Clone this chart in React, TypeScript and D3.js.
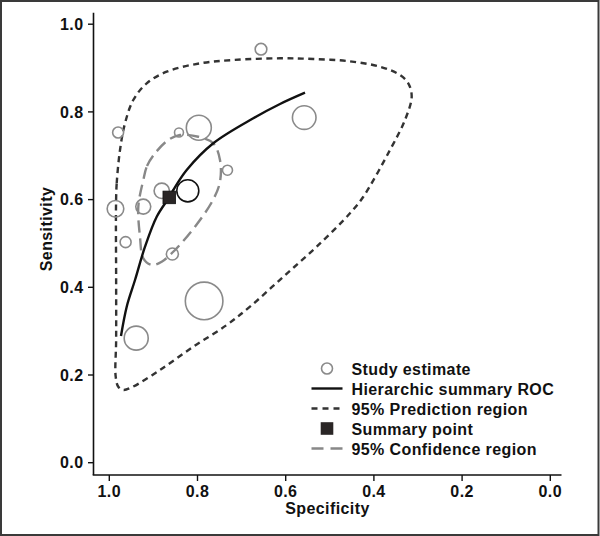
import React from "react";
import * as d3 from "d3";

// Study estimates: specificity, sensitivity, relative weight
const studySpec = [0.656, 0.98, 0.842, 0.797, 0.732, 0.881, 0.822, 0.923, 0.986, 0.963, 0.857, 0.785, 0.939, 0.558];
const studySens = [0.943, 0.753, 0.753, 0.764, 0.667, 0.62, 0.62, 0.584, 0.579, 0.503, 0.476, 0.369, 0.284, 0.787];
const studyWeight = [34, 30, 20, 156, 25, 59, 121, 56, 69, 30, 36, 353, 144, 139];
const highlighted = [false, false, false, false, false, false, true, false, false, false, false, false, false, false];

// Hierarchic summary ROC curve
const rocSpec = [0.9735, 0.9605, 0.9417, 0.919, 0.8925, 0.8639, 0.8549, 0.8245, 0.7642, 0.6735, 0.6129, 0.5562];
const rocSens = [0.2889, 0.3558, 0.4166, 0.4926, 0.561, 0.6059, 0.6219, 0.6675, 0.7284, 0.7854, 0.818, 0.8438];

// 95% prediction region
const predSpec = [0.9848, 0.9832, 0.9757, 0.9644, 0.9456, 0.9152, 0.8698, 0.7943, 0.7188, 0.6129, 0.5374, 0.4617, 0.3862, 0.3408, 0.322, 0.3143, 0.3295, 0.3635, 0.424, 0.4542, 0.5297, 0.6054, 0.681, 0.7338, 0.8095, 0.885, 0.9492, 0.9683, 0.9796, 0.9855, 0.9845, 0.9845];
const predSens = [0.5838, 0.6372, 0.7131, 0.774, 0.8271, 0.8652, 0.8917, 0.9108, 0.9184, 0.9222, 0.9206, 0.9161, 0.9031, 0.8842, 0.8652, 0.8347, 0.7816, 0.7132, 0.6066, 0.5688, 0.4926, 0.4242, 0.3558, 0.314, 0.2645, 0.2114, 0.1719, 0.1658, 0.1733, 0.1961, 0.2798, 0.4166];

// 95% confidence region
const confSpec = [0.9229, 0.9145, 0.8964, 0.8662, 0.8397, 0.7982, 0.7642, 0.749, 0.749, 0.7649, 0.8057, 0.851, 0.8812, 0.9039, 0.9229, 0.9304, 0.9342];
const confSens = [0.6447, 0.6766, 0.7056, 0.7359, 0.7473, 0.7434, 0.7284, 0.6903, 0.6408, 0.5991, 0.5382, 0.4851, 0.4584, 0.4509, 0.4661, 0.5154, 0.5838];

// Summary point
const summarySpec = 0.864;
const summarySens = 0.605;

const xTicks = [1.0, 0.8, 0.6, 0.4, 0.2, 0.0];
const yTicks = [0.0, 0.2, 0.4, 0.6, 0.8, 1.0];
const legendLabels = ["Study estimate", "Hierarchic summary ROC", "95% Prediction region", "Summary point", "95% Confidence region"];

const FONT = "'Liberation Sans', Arial, Helvetica, sans-serif";
const FS = 16;
const LS = 0.4;

export default function App() {
  const x = d3.scaleLinear().domain([1, 0]).range([109.3, 550.3]);
  const y = d3.scaleLinear().domain([0, 1]).range([462.7, 24.2]);
  const r = d3.scaleSqrt().domain([0, 353]).range([0, 18.8]);

  const rocLine = d3
    .line<number>()
    .x((_, i) => x(rocSpec[i]))
    .y((_, i) => y(rocSens[i]))
    .curve(d3.curveCatmullRom.alpha(0.5));
  const predLine = d3
    .line<number>()
    .x((_, i) => x(predSpec[i]))
    .y((_, i) => y(predSens[i]))
    .curve(d3.curveCatmullRomClosed.alpha(0.5));
  const confLine = d3
    .line<number>()
    .x((_, i) => x(confSpec[i]))
    .y((_, i) => y(confSens[i]))
    .curve(d3.curveCatmullRomClosed.alpha(0.5));

  const axisY = 475;
  const axisX = 93.5;
  const legendX = 327;
  const legendTextX = 351.5;
  const legendY0 = 368.5;
  const legendStep = 20;

  return (
    <svg
      width={600}
      height={536}
      style={{ position: "absolute", left: 0, top: 0, display: "block", background: "#fff" }}
      fontFamily={FONT}
    >
      <rect x={1} y={1} width={597.5} height={534} fill="#fff" stroke="#3a3a3a" strokeWidth={2} />

      {/* axes */}
      <line x1={axisX} y1={12.7} x2={axisX} y2={axisY} stroke="#111" strokeWidth={1.6} />
      <line x1={axisX - 0.8} y1={axisY} x2={561.5} y2={axisY} stroke="#111" strokeWidth={1.6} />
      {yTicks.map((t) => (
        <g key={"y" + t}>
          <line x1={88} x2={axisX} y1={y(t)} y2={y(t)} stroke="#111" strokeWidth={1.4} />
          <text x={83.5} y={y(t) + 5.6} textAnchor="end" fontSize={FS} fontWeight="bold" fill="#111" letterSpacing={LS}>
            {t.toFixed(1)}
          </text>
        </g>
      ))}
      {xTicks.map((t) => (
        <g key={"x" + t}>
          <line x1={x(t)} x2={x(t)} y1={axisY} y2={481} stroke="#111" strokeWidth={1.4} />
          <text x={x(t)} y={497} textAnchor="middle" fontSize={FS} fontWeight="bold" fill="#111" letterSpacing={LS}>
            {t.toFixed(1)}
          </text>
        </g>
      ))}
      <text x={327.5} y={514} textAnchor="middle" fontSize={FS} fontWeight="bold" fill="#111" letterSpacing={LS}>
        Specificity
      </text>
      <text
        transform={`translate(52,229) rotate(-90)`}
        textAnchor="middle"
        fontSize={FS}
        fontWeight="bold"
        fill="#111"
        letterSpacing={LS}
      >
        Sensitivity
      </text>

      {/* regions and curve */}
      <path d={predLine(predSpec) || ""} fill="none" stroke="#333" strokeWidth={2.4} strokeDasharray="6 4.5" />
      <path d={confLine(confSpec) || ""} fill="none" stroke="#888" strokeWidth={2.4} strokeDasharray="12 6" />
      <path d={rocLine(rocSpec) || ""} fill="none" stroke="#111" strokeWidth={2.4} />

      {/* study estimates */}
      {studySpec.map((s, i) => (
        <circle
          key={"c" + i}
          cx={x(s)}
          cy={y(studySens[i])}
          r={r(studyWeight[i])}
          fill="none"
          stroke={highlighted[i] ? "#111" : "#8a8a8a"}
          strokeWidth={1.6}
        />
      ))}

      {/* summary point */}
      <rect
        x={x(summarySpec) - 6.3}
        y={y(summarySens) - 6.3}
        width={12.6}
        height={12.6}
        fill="#2a2626"
        stroke="#111"
        strokeWidth={0.8}
      />

      {/* legend */}
      <g>
        <circle cx={legendX} cy={legendY0} r={5.5} fill="#fff" stroke="#8a8a8a" strokeWidth={1.6} />
        <line x1={311.5} x2={342.5} y1={legendY0 + legendStep} y2={legendY0 + legendStep} stroke="#111" strokeWidth={2.4} />
        <line x1={311.5} x2={342.5} y1={legendY0 + 2 * legendStep} y2={legendY0 + 2 * legendStep} stroke="#333" strokeWidth={2.4} strokeDasharray="6 5" />
        <rect x={legendX - 6.3} y={legendY0 + 3 * legendStep - 6.3} width={12.6} height={12.6} fill="#2a2626" />
        <line x1={311.5} x2={342.5} y1={legendY0 + 4 * legendStep} y2={legendY0 + 4 * legendStep} stroke="#888" strokeWidth={2.4} strokeDasharray="12 7" />
        {legendLabels.map((l, i) => (
          <text key={l} x={legendTextX} y={legendY0 + i * legendStep + 6.3} fontSize={FS} fontWeight="bold" fill="#111" letterSpacing={LS}>
            {l}
          </text>
        ))}
      </g>
    </svg>
  );
}
